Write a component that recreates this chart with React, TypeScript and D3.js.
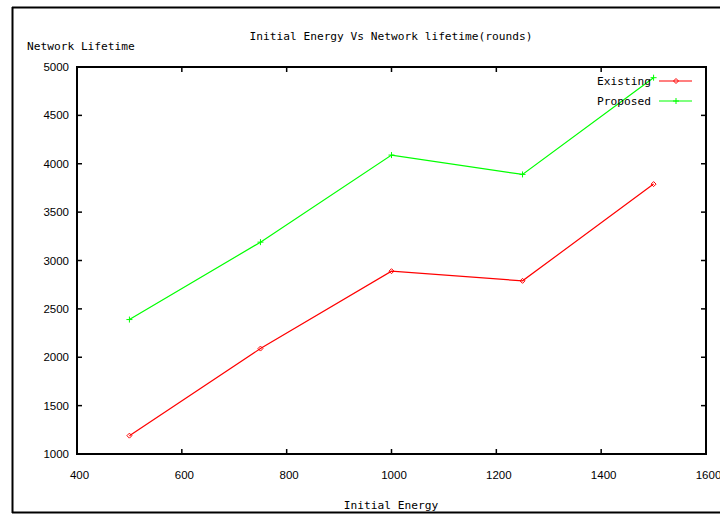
import * as d3 from "d3";

const energy = [500, 750, 1000, 1250, 1500];
const existing = [1200, 2100, 2900, 2800, 3800];
const proposed = [2400, 3200, 4100, 3900, 4900];
const xTicks = [400, 600, 800, 1000, 1200, 1400, 1600];
const yTicks = [1000, 1500, 2000, 2500, 3000, 3500, 4000, 4500, 5000];

const width = 720;
const height = 515;
const plot = { left: 77, right: 706, top: 67, bottom: 454 };

const mono = "'DejaVu Sans Mono', monospace";
const sans = "'Liberation Sans', Arial, sans-serif";

const App = () => {
  const x = d3.scaleLinear().domain([400, 1600]).range([plot.left, plot.right]);
  const y = d3.scaleLinear().domain([1000, 5000]).range([plot.bottom, plot.top]);

  const line = d3
    .line<number>()
    .x((_, i) => x(energy[i]))
    .y((d) => y(d) + 1);

  const diamond = (cx: number, cy: number) =>
    `M${cx},${cy - 2.5}L${cx + 2.5},${cy}L${cx},${cy + 2.5}L${cx - 2.5},${cy}Z`;
  const plus = (cx: number, cy: number) =>
    `M${cx - 3},${cy}H${cx + 3}M${cx},${cy - 3}V${cy + 3}`;

  const series = [
    { name: "Existing", values: existing, color: "#ff0000", marker: diamond },
    { name: "Proposed", values: proposed, color: "#00ff00", marker: plus },
  ];

  return (
    <>
      <style>{"body{margin:0}"}</style>
      <svg width={width} height={height} style={{ display: "block", background: "#fff" }}>
        {/* document frame */}
        <line x1={12} x2={720} y1={7.5} y2={7.5} stroke="#000" strokeWidth={2} />
        <line x1={12.5} x2={12.5} y1={7} y2={513} stroke="#000" strokeWidth={2} />
        <line x1={12} x2={720} y1={512.5} y2={512.5} stroke="#000" strokeWidth={2} />

        {/* title and axis labels */}
        <text x={391} y={40} textAnchor="middle" fontFamily={mono} fontSize={11.2} fill="#000">
          Initial Energy Vs Network lifetime(rounds)
        </text>
        <text x={27} y={50} fontFamily={mono} fontSize={11.2} fill="#000">
          Network Lifetime
        </text>
        <text x={391} y={509} textAnchor="middle" fontFamily={mono} fontSize={11.2} fill="#000">
          Initial Energy
        </text>

        {/* ticks */}
        {yTicks.map((t) => (
          <g key={`y${t}`}>
            <line x1={plot.left} x2={plot.left + 5} y1={y(t)} y2={y(t)} stroke="#000" strokeWidth={1.5} />
            <line x1={plot.right} x2={plot.right - 5} y1={y(t)} y2={y(t)} stroke="#000" strokeWidth={1.5} />
            <text x={69} y={y(t) + 4} textAnchor="end" fontFamily={sans} fontSize={11.5} fill="#000">
              {t}
            </text>
          </g>
        ))}
        {xTicks.map((t) => (
          <g key={`x${t}`}>
            <line x1={x(t)} x2={x(t)} y1={plot.bottom} y2={plot.bottom - 5} stroke="#000" strokeWidth={1.5} />
            <line x1={x(t)} x2={x(t)} y1={plot.top} y2={plot.top + 5} stroke="#000" strokeWidth={1.5} />
            <text x={x(t) + 2.5} y={479} textAnchor="middle" fontFamily={sans} fontSize={11.5} fill="#000">
              {t}
            </text>
          </g>
        ))}

        {/* plot border */}
        <rect
          x={plot.left}
          y={plot.top}
          width={plot.right - plot.left}
          height={plot.bottom - plot.top}
          fill="none"
          stroke="#000"
          strokeWidth={2}
        />

        {/* series */}
        {series.map((s) => (
          <g key={s.name}>
            <path d={line(s.values) ?? undefined} fill="none" stroke={s.color} strokeWidth={1.2} />
            {s.values.map((v, i) => (
              <path key={i} d={s.marker(x(energy[i]), y(v) + 1)} fill="none" stroke={s.color} strokeWidth={1} />
            ))}
          </g>
        ))}

        {/* legend */}
        {series.map((s, i) => {
          const ly = 81 + i * 20;
          return (
            <g key={`lg${s.name}`}>
              <text x={651} y={ly + 4} textAnchor="end" fontFamily={mono} fontSize={11.2} fill="#000">
                {s.name}
              </text>
              <line x1={659} x2={692} y1={ly} y2={ly} stroke={s.color} strokeWidth={1.2} />
              <path d={s.marker(676, ly)} fill="none" stroke={s.color} strokeWidth={1} />
            </g>
          );
        })}
      </svg>
    </>
  );
};

export default App;
